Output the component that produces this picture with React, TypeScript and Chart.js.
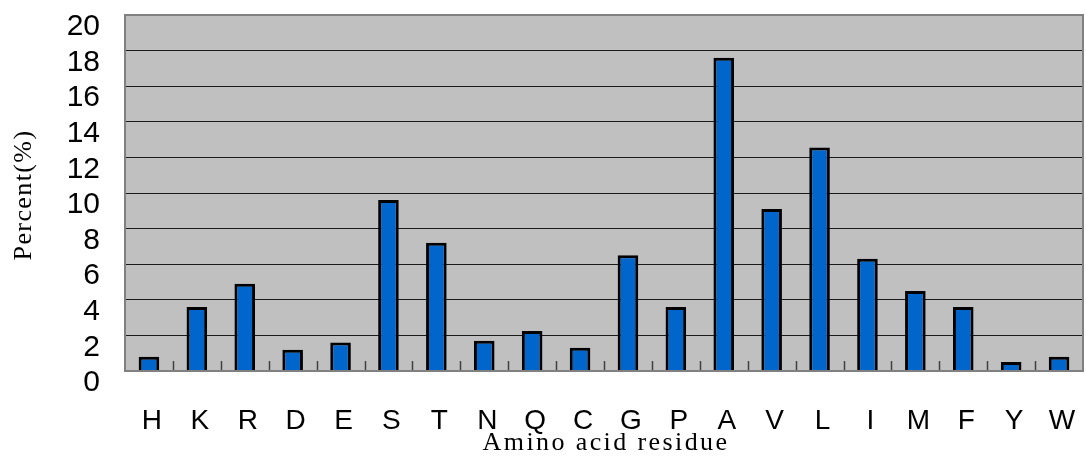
import React, { useEffect, useRef } from "react";
import { Chart, registerables } from "chart.js";

Chart.register(...registerables);

const categories = ["H", "K", "R", "D", "E", "S", "T", "N", "Q", "C", "G", "P", "A", "V", "L", "I", "M", "F", "Y", "W"];
const percents = [0.8, 3.6, 4.9, 1.2, 1.6, 9.6, 7.2, 1.7, 2.25, 1.3, 6.5, 3.6, 17.6, 9.1, 12.55, 6.3, 4.5, 3.6, 0.5, 0.8];
const yMin = 0;
const yMax = 20;
const yStep = 2;
const xTitle = "Amino acid residue";
const yTitle = "Percent(%)";

const plotFrame = {
  id: "plotFrame",
  beforeDraw(chart: any) {
    const { ctx, chartArea } = chart;
    ctx.save();
    ctx.fillStyle = "#C0C0C0";
    ctx.fillRect(chartArea.left, chartArea.top, chartArea.right - chartArea.left, chartArea.bottom - chartArea.top);
    ctx.restore();
  },
  afterDatasetsDraw(chart: any) {
    const { ctx, chartArea, scales } = chart;
    const xs = scales.x;
    ctx.save();
    ctx.strokeStyle = "#404040";
    ctx.lineWidth = 1.5;
    const n = categories.length;
    for (let i = 1; i < n; i++) {
      const x = (xs.getPixelForValue(i - 1) + xs.getPixelForValue(i)) / 2;
      ctx.beginPath();
      ctx.moveTo(Math.round(x) + 0.5, chartArea.bottom);
      ctx.lineTo(Math.round(x) + 0.5, chartArea.bottom - 10);
      ctx.stroke();
    }
    ctx.strokeStyle = "#808080";
    ctx.lineWidth = 2;
    ctx.strokeRect(chartArea.left, chartArea.top, chartArea.right - chartArea.left, chartArea.bottom - chartArea.top);
    ctx.restore();
  },
  afterDraw(chart: any) {
    const { ctx, chartArea } = chart;
    ctx.save();
    ctx.fillStyle = "#000";
    ctx.font = "26px 'Liberation Serif'";
    (ctx as any).letterSpacing = "2.4px";
    ctx.textAlign = "center";
    ctx.textBaseline = "alphabetic";
    const cx = (chartArea.left + chartArea.right) / 2;
    ctx.fillText(xTitle, cx + 2, chartArea.bottom + 79);
    ctx.translate(31, (chartArea.top + chartArea.bottom) / 2 + 2);
    ctx.rotate(-Math.PI / 2);
    (ctx as any).letterSpacing = "1.4px";
    ctx.fillText(yTitle, 0, 0);
    ctx.restore();
  },
};

export default function App() {
  const ref = useRef<HTMLCanvasElement | null>(null);

  useEffect(() => {
    if (!ref.current) return;
    const chart = new Chart(ref.current, {
      type: "bar",
      data: {
        labels: categories,
        datasets: [
          {
            data: percents,
            backgroundColor: "#0066CC",
            borderColor: "#000000",
            borderWidth: 3,
            categoryPercentage: 1,
            barPercentage: 0.43,
          },
        ],
      },
      plugins: [plotFrame],
      options: {
        animation: false,
        responsive: true,
        maintainAspectRatio: false,
        layout: { padding: { left: 0, top: 15, right: 3, bottom: 0 } },
        plugins: {
          legend: { display: false },
          tooltip: { enabled: false },
        },
        scales: {
          x: {
            grid: { display: false },
            border: { display: false },
            ticks: {
              color: "#000",
              padding: 25,
              labelOffset: 3,
              autoSkip: false,
              maxRotation: 0,
              font: { family: "Liberation Sans", size: 28 },
            },
            afterFit(scale: any) {
              scale.height = 88;
              scale.paddingLeft = 0;
              scale.paddingRight = 0;
            },
          },
          y: {
            min: yMin,
            max: yMax,
            grid: {
              drawTicks: false,
              color: (c: any) => (c.tick && c.tick.value === yMax ? "#808080" : "#1a1a1a"),
              lineWidth: 1,
            },
            border: { display: false },
            ticks: {
              stepSize: yStep,
              autoSkip: false,
              color: "#000",
              padding: 25,
              labelOffset: 12,
              font: { family: "Liberation Sans", size: 30 },
            },
            afterFit(scale: any) {
              scale.width = 125;
              scale.paddingTop = 0;
              scale.paddingBottom = 0;
            },
          },
        },
      },
    });
    return () => chart.destroy();
  }, []);

  return (
    <div style={{ position: "fixed", left: 0, top: 0, width: 1086, height: 459 }}>
      <canvas ref={ref} />
    </div>
  );
}
